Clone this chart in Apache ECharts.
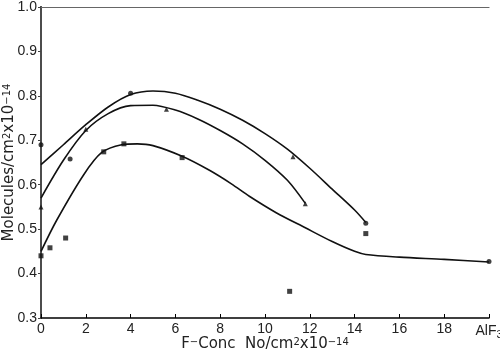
<!DOCTYPE html>
<html>
<head>
<meta charset="utf-8">
<script src="https://cdn.jsdelivr.net/npm/echarts/dist/echarts.min.js"></script>
<style>
  html, body { margin: 0; padding: 0; background: #fff; }
  #chart { width: 500px; height: 353px; }
</style>
</head>
<body>
<div id="chart"></div>
<script>
// fitted curves
const curveTop = [[0,0.645],[1,0.69],[2,0.735],[3,0.775],[4,0.803],[5,0.811],[6,0.806],[7,0.79],[8,0.77],[9,0.745],[10,0.715],[11,0.68],[12,0.637],[13,0.59],[14,0.543],[14.5,0.515]];
const curveMid = [[0,0.57],[1,0.655],[2,0.722],[3,0.76],[4,0.778],[5,0.779],[6,0.768],[7,0.748],[8,0.722],[9,0.692],[10,0.655],[11,0.61],[11.8,0.558]];
const curveLow = [[0,0.45],[0.7,0.52],[1.9,0.622],[2.7,0.672],[3.6,0.69],[4.3,0.692],[5,0.688],[6.3,0.664],[7.5,0.633],[8.5,0.602],[9.3,0.574],[10.5,0.537],[11.8,0.503],[13,0.472],[14,0.45],[14.5,0.443],[16,0.437],[18,0.432],[20,0.426]];

// measured points
const circlePts = [[0,0.69],[1.3,0.658],[4,0.806],[14.5,0.513],[20,0.427]];
const trianglePts = [[0,0.55],[2,0.725],[5.6,0.77],[11.25,0.663],[11.8,0.557]];
const squarePts = [[0,0.44],[0.4,0.458],[1.1,0.48],[2.8,0.674],[3.7,0.692],[6.3,0.661],[11.1,0.36],[14.5,0.49]];

const xTicks = [0, 2, 4, 6, 8, 10, 12, 14, 16, 18, 20];
const yTicks = [0.3, 0.4, 0.5, 0.6, 0.7, 0.8, 0.9, 1.0];

const tickFont = 'Liberation Sans Narrow, Liberation Sans, sans-serif';
const titleFont = 'DejaVu Sans, sans-serif';
const chart = echarts.init(document.getElementById('chart'));

// rich styles for super / subscripts
const rich = {
    n: { fontSize: 15, fontFamily: titleFont, color: '#222', verticalAlign: 'bottom' },
    s: { fontSize: 10, fontFamily: titleFont, color: '#222', verticalAlign: 'top' },
    t: { fontSize: 14, fontFamily: tickFont, color: '#222' },
    b: { fontSize: 11, fontFamily: tickFont, color: '#222', padding: [7, 0, 0, 0] }
};

function lineSeries(data) {
    return {
        type: 'line', data: data, smooth: 0.3, showSymbol: false,
        lineStyle: { color: '#111', width: 1.6 }, z: 2
    };
}
function pointSeries(data, symbol, size) {
    return {
        type: 'scatter', data: data, symbol: symbol, symbolSize: size,
        itemStyle: { color: '#111' }, z: 3
    };
}

chart.setOption({
    animation: false,
    grid: { left: 41, right: 11, top: 7, bottom: 35, outerBoundsMode: 'none' },
    xAxis: [{
        type: 'value', min: 0, max: 20, interval: 2,
        axisLine: { lineStyle: { color: '#000', width: 1.5 } },
        axisTick: { inside: true, length: 4, lineStyle: { color: '#000' } },
        splitLine: { show: false },
        axisLabel: {
            color: '#222', fontSize: 14, fontFamily: tickFont, margin: 4, rich: rich,
            formatter: v => xTicks.includes(v) ? (v === 20 ? '{t|AlF}{b|3}' : '{t|' + v + '}') : ''
        },
        name: '{n|F}{s|−}{n|Conc  No/cm}{s|2}{n|x10}{s|−14}', nameLocation: 'middle', nameGap: 19,
        nameMoveOverlap: false,
        nameTextStyle: { fontSize: 15, fontFamily: titleFont, color: '#222', rich: rich }
    }, {
        type: 'value', min: 0, max: 20, position: 'top',
        axisLine: { lineStyle: { color: '#666', width: 1.2 } },
        axisTick: { show: false }, axisLabel: { show: false }, splitLine: { show: false }
    }],
    yAxis: [{
        type: 'value', min: 0.3, max: 1.0, interval: 0.1,
        axisLine: { lineStyle: { color: '#000', width: 2 } },
        axisTick: { inside: false, length: 3, lineStyle: { color: '#000' } },
        splitLine: { show: false },
        axisLabel: {
            color: '#222', fontSize: 14, fontFamily: tickFont, margin: 4,
            formatter: v => v.toFixed(1)
        },
        name: '{n|Molecules/cm}{s|2}{n|x10}{s|−14}', nameLocation: 'middle', nameGap: 24,
        nameMoveOverlap: false,
        nameTextStyle: { fontSize: 15, fontFamily: titleFont, color: '#222', rich: rich }
    }, {
        type: 'value', min: 0.3, max: 1.0, interval: 0.1, position: 'right',
        axisLine: { lineStyle: { color: '#666', width: 1.5 } },
        axisTick: { inside: true, length: 3, lineStyle: { color: '#444' } },
        axisLabel: { show: false }, splitLine: { show: false }
    }],
    series: [
        lineSeries(curveTop),
        lineSeries(curveMid),
        lineSeries(curveLow),
        pointSeries(circlePts, 'circle', 5),
        pointSeries(trianglePts, 'triangle', 5),
        pointSeries(squarePts, 'rect', 5)
    ]
});
</script>
</body>
</html>
